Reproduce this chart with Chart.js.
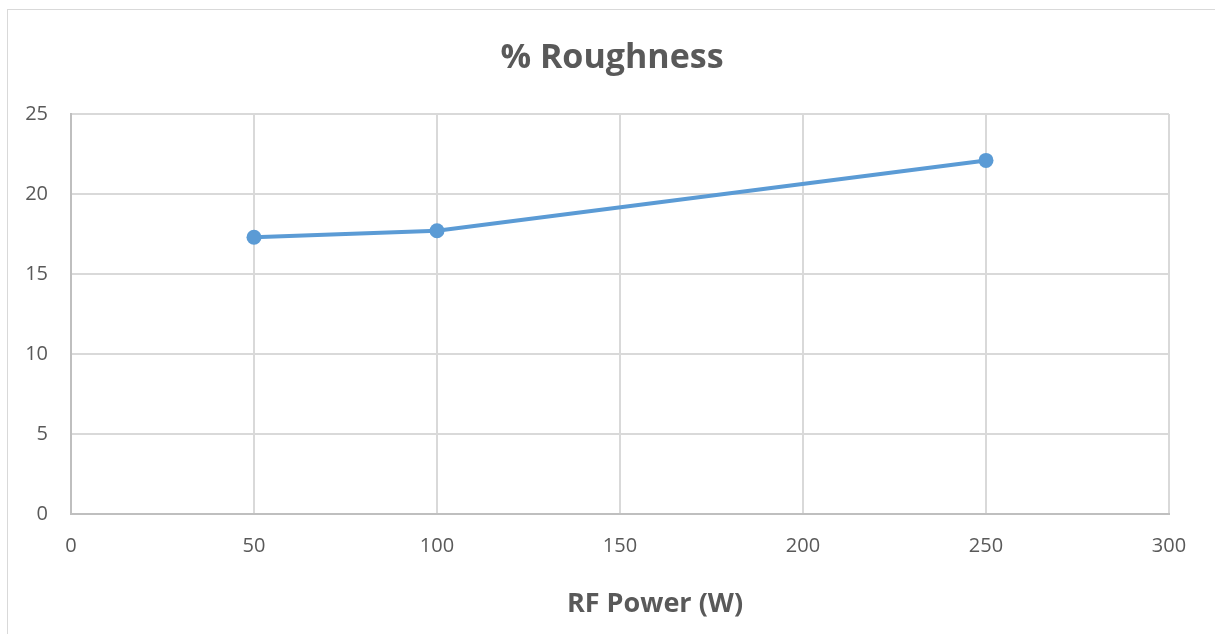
<!DOCTYPE html>
<html>
<head>
<meta charset="utf-8">
<script src="https://cdn.jsdelivr.net/npm/chart.js@4/dist/chart.umd.min.js"></script>
<style>
  html, body { margin: 0; padding: 0; background: #fff; overflow: hidden; }
  #wrap { position: relative; width: 1215px; height: 634px; }
  #frame { position: absolute; left: 7px; top: 9px; width: 1400px; height: 800px; border: 1.5px solid #d9d9d9; box-sizing: border-box; }
  #roughChart { position: absolute; left: 0; top: 0; }
</style>
</head>
<body>
<div id="wrap">
  <div id="frame"></div>
  <canvas id="roughChart" width="1215" height="634"></canvas>
</div>
<script>
// Данные графика
const rfPower = [50, 100, 250];          // Мощность RF, Вт
const roughness = [17.3, 17.7, 22.1];    // Шероховатость, %
const chartTitle = '% Roughness';
const xTitle = 'RF Power (W)';

const textColor = '#595959';
const gridColor = '#d9d9d9';
const axisColor = '#bfbfbf';
const lineColor = '#5b9bd5';

// Заголовки рисуем сами: в оригинале они смещены относительно центра области графика
const titlesPlugin = {
    id: 'titles',
    afterDraw(chart) {
        const { ctx, chartArea } = chart;
        const mid = (chartArea.left + chartArea.right) / 2;
        ctx.save();
        ctx.fillStyle = textColor;
        ctx.textAlign = 'center';
        ctx.textBaseline = 'middle';
        ctx.font = 'bold 34px "Open Sans"';
        ctx.fillText(chartTitle, mid - 8, chartArea.top - 56);
        ctx.font = 'bold 27px "Open Sans"';
        ctx.fillText(xTitle, mid + 35, chartArea.bottom + 90);
        ctx.restore();
    }
};

const ctx = document.getElementById('roughChart').getContext('2d');
new Chart(ctx, {
    type: 'line',
    data: {
        datasets: [{
            data: rfPower.map((x, i) => ({ x: x, y: roughness[i] })),
            borderColor: lineColor,
            backgroundColor: lineColor,
            borderWidth: 4,
            pointRadius: 7.5,
            pointHoverRadius: 7.5,
            pointBorderWidth: 0,
            tension: 0
        }]
    },
    options: {
        responsive: false,
        animation: false,
        layout: { padding: { left: 0, right: 46, top: 114, bottom: 0 } },
        plugins: {
            legend: { display: false },
            tooltip: { enabled: false },
            title: { display: false }
        },
        scales: {
            x: {
                type: 'linear',
                min: 0,
                max: 300,
                ticks: {
                    stepSize: 50,
                    color: textColor,
                    font: { family: 'Open Sans', size: 20 },
                    padding: 20
                },
                grid: { color: gridColor, lineWidth: 2, drawTicks: false },
                border: { color: axisColor, width: 2 },
                afterFit(scale) { scale.height = 120; }
            },
            y: {
                min: 0,
                max: 25,
                ticks: {
                    stepSize: 5,
                    color: textColor,
                    font: { family: 'Open Sans', size: 20 },
                    padding: 23
                },
                grid: { color: gridColor, lineWidth: 2, drawTicks: false },
                border: { color: axisColor, width: 2 },
                afterFit(scale) { scale.width = 71; }
            }
        }
    },
    plugins: [titlesPlugin]
});
</script>
</body>
</html>
